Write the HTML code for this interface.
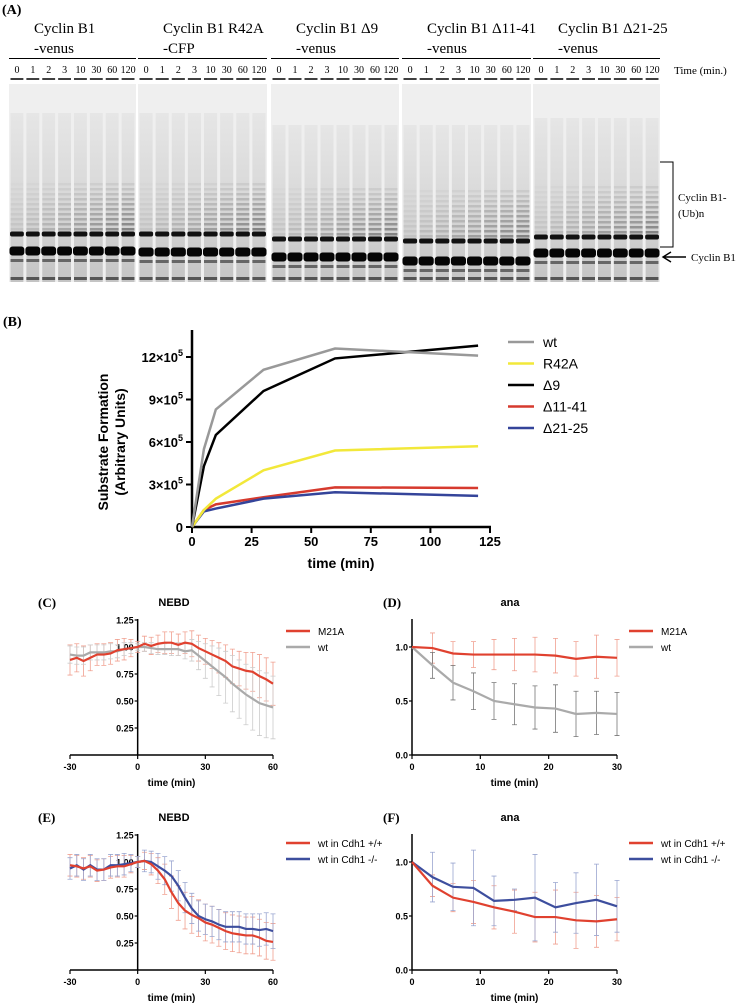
<!DOCTYPE html>
<html><head><meta charset="utf-8">
<style>
html,body{margin:0;padding:0;background:#fff;}
body{width:747px;height:1006px;position:relative;overflow:hidden;}
svg{position:absolute;left:0;top:0;}
.serif{font-family:"Liberation Serif",serif;}
.sans{font-family:"Liberation Sans",sans-serif;}
</style></head>
<body>
<svg id="fig" width="747" height="1006" viewBox="0 0 747 1006">
<defs>
<linearGradient id="laneGrad" x1="0" y1="0" x2="0" y2="1">
<stop offset="0" stop-color="#e6e6e6"/><stop offset="0.5" stop-color="#d8d8d8"/><stop offset="1" stop-color="#c4c4c4"/>
</linearGradient>
</defs>
<g id="gel"></g>
<g id="pb"></g>
<g id="pc"></g>
<g id="pd"></g>
<g id="pe"></g>
<g id="pf"></g>
</svg>
<script>
// ---------- DATA ----------
const gelGroups = ["Cyclin B1|-venus","Cyclin B1 R42A|-CFP","Cyclin B1 Δ9|-venus","Cyclin B1 Δ11-41|-venus","Cyclin B1 Δ21-25|-venus"];
const gelTimes = ["0","1","2","3","10","30","60","120"];

const bTimes = [0,5,10,30,60,120];
const bWt = [0,5.5,8.3,11.1,12.6,12.1];
const bR42A = [0,1.2,2.0,4.0,5.4,5.7];
const bD9 = [0,4.3,6.5,9.6,11.9,12.8];
const bD1141 = [0,1.2,1.6,2.1,2.8,2.75];
const bD2125 = [0,1.1,1.3,2.0,2.45,2.2];
const bXTicks = [0,25,50,75,100,125];
const bYTicks = [0,3,6,9,12];

const nebdTimes = [-30,-27,-24,-21,-18,-15,-12,-9,-6,-3,0,3,6,9,12,15,18,21,24,27,30,33,36,39,42,45,48,51,54,57,60];
const cM21A = [0.88,0.90,0.87,0.90,0.93,0.93,0.94,0.97,0.98,0.99,1.0,1.03,1.01,1.03,1.04,1.04,1.02,1.04,1.03,0.99,0.96,0.93,0.90,0.87,0.82,0.80,0.78,0.77,0.73,0.70,0.66];
const cM21AErr = [0.14,0.13,0.14,0.12,0.1,0.1,0.1,0.1,0.1,0.08,0.05,0.07,0.08,0.08,0.1,0.1,0.1,0.1,0.12,0.12,0.12,0.13,0.14,0.15,0.16,0.16,0.17,0.18,0.2,0.2,0.2];
const cWt = [0.93,0.92,0.92,0.95,0.95,0.95,0.96,0.96,0.98,0.99,1.0,1.0,0.99,0.98,0.98,0.98,0.98,0.96,0.97,0.92,0.87,0.82,0.77,0.72,0.66,0.61,0.56,0.52,0.48,0.46,0.44];
const cWtErr = [0.08,0.08,0.08,0.07,0.07,0.07,0.07,0.06,0.06,0.05,0.03,0.04,0.05,0.05,0.05,0.06,0.06,0.07,0.1,0.13,0.16,0.19,0.22,0.24,0.26,0.27,0.28,0.29,0.3,0.3,0.29];

const anaTimes = [0,3,6,9,12,15,18,21,24,27,30];
const dM21A = [1.0,0.99,0.94,0.93,0.93,0.93,0.93,0.92,0.89,0.91,0.90];
const dM21AErr = [0,0.14,0.11,0.12,0.14,0.15,0.16,0.16,0.16,0.2,0.17];
const dWt = [1.0,0.83,0.67,0.59,0.50,0.47,0.44,0.43,0.38,0.39,0.38];
const dWtErr = [0,0.12,0.16,0.17,0.17,0.19,0.2,0.22,0.21,0.2,0.2];

const eWtPos = [0.97,0.96,0.94,0.96,0.92,0.93,0.95,0.96,0.96,0.98,1.0,1.01,0.98,0.92,0.84,0.72,0.62,0.55,0.51,0.48,0.44,0.42,0.39,0.36,0.34,0.33,0.32,0.32,0.30,0.27,0.26];
const eWtPosErr = [0.1,0.1,0.1,0.1,0.1,0.1,0.1,0.1,0.1,0.08,0.05,0.08,0.1,0.12,0.14,0.15,0.16,0.17,0.17,0.17,0.17,0.17,0.17,0.17,0.17,0.17,0.17,0.17,0.17,0.17,0.17];
const eWtNeg = [0.94,0.97,0.93,0.97,0.93,0.93,0.97,0.97,0.98,0.99,1.0,1.01,1.0,0.96,0.92,0.87,0.78,0.67,0.57,0.50,0.47,0.45,0.42,0.40,0.40,0.40,0.38,0.38,0.37,0.38,0.36];
const eWtNegErr = [0.1,0.1,0.1,0.1,0.1,0.1,0.1,0.1,0.1,0.08,0.05,0.1,0.1,0.12,0.13,0.14,0.14,0.14,0.14,0.14,0.14,0.14,0.14,0.14,0.14,0.14,0.14,0.14,0.15,0.15,0.16];

const fWtPos = [1.0,0.78,0.67,0.63,0.58,0.54,0.49,0.49,0.46,0.45,0.47];
const fWtPosErr = [0,0.1,0.13,0.2,0.2,0.2,0.23,0.25,0.26,0.24,0.2];
const fWtNeg = [1.0,0.86,0.77,0.76,0.64,0.65,0.67,0.58,0.62,0.65,0.59];
const fWtNegErr = [0,0.23,0.22,0.35,0.23,0.1,0.4,0.23,0.28,0.33,0.24];

// ---------- HELPERS ----------
const NS = "http://www.w3.org/2000/svg";
function el(tag, attrs, parent, text){
  const e = document.createElementNS(NS, tag);
  for (const k in attrs) e.setAttribute(k, attrs[k]);
  if (text !== undefined) e.textContent = text;
  parent.appendChild(e);
  return e;
}
function mk(x0,x1,px0,px1){ return v => px0 + (v-x0)/(x1-x0)*(px1-px0); }

// ---------- GEL (A) ----------
(function(){
  const g = document.getElementById('gel');
  const lab = el('text',{x:2,y:14,class:'serif','font-size':14,'font-weight':'bold'},g,'(A)');
  
  
  const gx = [9,138,271,402,533];
  const gw = [127,129,128,129,127];
  const topY = [113,113,125,125,118];
  const upper = [234,234,239,241,237];
  const main = [251,252,257,261,253];
  gelGroups.forEach((name,i)=>{
    const parts = name.split('|');
    const t1 = el('text',{x:gx[i]+25,y:33,class:'serif','font-size':15},g,parts[0]);
    
    
    const t2 = el('text',{x:gx[i]+25,y:53,class:'serif','font-size':15},g,parts[1]);
    
    
    const ul = el('line',{x1:gx[i],x2:gx[i]+gw[i],y1:58.5,y2:58.5,stroke:'#000','stroke-width':1},g);
    
    
    const bg = el('rect',{x:gx[i],y:84,width:gw[i],height:198,fill:'#efefef'},g);
    
    
    const lw = gw[i]/8;
    gelTimes.forEach((t,j)=>{
      const cx = gx[i]+lw*j+lw/2;
      const tt = el('text',{x:cx,y:73,class:'serif','font-size':10,'text-anchor':'middle'},g,t);
      
      
      const d = el('line',{x1:cx-lw/2+1.5,x2:cx+lw/2-1.5,y1:79,y2:79,stroke:'#000','stroke-width':1.5},g);
      
      
      const lane = el('rect',{x:cx-lw/2+1.5,y:topY[i],width:lw-3,height:282-topY[i],fill:'url(#laneGrad)'},g);
      
      
      const k = j/7;
      for(let b=0;b<10;b++){
        const by = upper[i]-6-b*5;
        const op = (0.08+0.4*k)*(1-b/11);
        const s = el('rect',{x:cx-lw/2+1.5,y:by,width:lw-3,height:2.5,fill:'#333','fill-opacity':op},g);
        
        
      }
      const u = el('rect',{x:cx-lw/2+1,y:upper[i]-2.5,width:lw-2,height:5,rx:2,fill:'#111'},g);
      
      
      const m = el('rect',{x:cx-lw/2+0.5,y:main[i]-4.5,width:lw-1,height:9,rx:3,fill:'#050505'},g);
      
      
      const mid = el('rect',{x:cx-lw/2+1.5,y:main[i]+8,width:lw-3,height:3,fill:'#666'},g);
      
      
      const bot = el('rect',{x:cx-lw/2+1.5,y:277,width:lw-3,height:3,fill:'#555'},g);
      
      
    });
  });
  const tm = el('text',{x:674,y:74,class:'serif','font-size':11},g,'Time (min.)');
  
  
  const br = el('path',{d:'M660 162 H673 V247 H660',fill:'none',stroke:'#000','stroke-width':1},g);
  
  
  const u1 = el('text',{x:678,y:201,class:'serif','font-size':11},g,'Cyclin B1-');
  
  
  const u2 = el('text',{x:678,y:217,class:'serif','font-size':11},g,'(Ub)n');
  
  
  const ar = el('path',{d:'M686 257 H664 M671 252 L663 257 L671 262',fill:'none',stroke:'#000','stroke-width':1.4},g);
  
  
  const cl = el('text',{x:691,y:261,class:'serif','font-size':11},g,'Cyclin B1');
  
  
})();

// ---------- PANEL B ----------
(function(){
  const g = document.getElementById('pb');
  const X = mk(0,125,192,490), Y = mk(0,12,527,357);
  const lab = el('text',{x:3,y:326,class:'serif','font-size':14,'font-weight':'bold'},g,'(B)');
  
  
  const ya = el('line',{x1:192,x2:192,y1:330,y2:528,stroke:'#000','stroke-width':2.5},g);
  
  
  const xa = el('line',{x1:191,x2:491,y1:527,y2:527,stroke:'#000','stroke-width':2.5},g);
  
  
  bYTicks.forEach(v=>{
    const t = el('line',{x1:186,x2:192,y1:Y(v),y2:Y(v),stroke:'#000','stroke-width':2},g);
    
    
    const tx = el('text',{x:183,y:Y(v)+5,class:'sans','font-size':13,'font-weight':'bold','text-anchor':'end'},g);
    
    
    if(v===0){ tx.textContent='0'; }
    else { tx.textContent=v+'×10'; el('tspan',{dy:-6,'font-size':9},tx,'5'); }
  });
  bXTicks.forEach(v=>{
    const t = el('line',{x1:X(v),x2:X(v),y1:527,y2:533,stroke:'#000','stroke-width':2},g);
    
    
    const tx = el('text',{x:X(v),y:546,class:'sans','font-size':13,'font-weight':'bold','text-anchor':'middle'},g,String(v));
    
    
  });
  const xt = el('text',{x:341,y:568,class:'sans','font-size':14,'font-weight':'bold','text-anchor':'middle'},g,'time (min)');
  
  
  const yt = el('text',{transform:'translate(108,442) rotate(-90)',class:'sans','font-size':14,'font-weight':'bold','text-anchor':'middle'},g);
  
  
  el('tspan',{x:0,y:0},yt,'Substrate Formation');
  el('tspan',{x:0,y:17},yt,'(Arbitrary Units)');
  const series = [[bWt,'#999999','wt'],[bR42A,'#f2e83a','R42A'],[bD9,'#000000','Δ9'],[bD1141,'#d63a2e','Δ11-41'],[bD2125,'#34449a','Δ21-25']];
  const draw = [series[3],series[4],series[1],series[2],series[0]];
  draw.forEach(s=>{
    const p = el('polyline',{points:bTimes.map((t,i)=>X(t)+','+Y(s[0][i])).join(' '),fill:'none',stroke:s[1],'stroke-width':2.5},g);
    
    
  });
  series.forEach((s,i)=>{
    const y = 342+i*21.5;
    const l = el('line',{x1:508,x2:534,y1:y,y2:y,stroke:s[1],'stroke-width':2.5},g);
    
    
    const t = el('text',{x:543,y:y+5,class:'sans','font-size':14},g,s[2]);
    
    
  });
})();

// ---------- SMALL CHARTS ----------
function small(id, opt){
  const g = document.getElementById(id);
  const X = mk(opt.xmin,opt.xmax,opt.px0,opt.px1), Y = mk(0,1.25,opt.py0,opt.py0-135);
  const lab = el('text',{x:opt.labelX,y:opt.py0-148,class:'serif','font-size':13,'font-weight':'bold'},g,opt.label);
  
  
  const tt = el('text',{x:opt.titleX,y:opt.py0-149,class:'sans','font-size':11,'font-weight':'bold','text-anchor':'middle'},g,opt.title);
  
  
  const ax0 = X(opt.yAxisAt);
  const ya = el('line',{x1:ax0,x2:ax0,y1:opt.py0-136,y2:opt.py0,stroke:'#000','stroke-width':1.5},g);
  
  
  const xa = el('line',{x1:opt.px0,x2:opt.px1,y1:opt.py0,y2:opt.py0,stroke:'#000','stroke-width':1.5},g);
  
  
  opt.yTicks.forEach((v,i)=>{
    const t = el('line',{x1:ax0-3,x2:ax0,y1:Y(v),y2:Y(v),stroke:'#000','stroke-width':1.2},g);
    
    
    const tx = el('text',{x:ax0-4,y:Y(v)+3.5,class:'sans','font-size':9,'font-weight':'bold','text-anchor':'end'},g,opt.yLabels[i]);
    
    
  });
  opt.xTicks.forEach(v=>{
    const t = el('line',{x1:X(v),x2:X(v),y1:opt.py0,y2:opt.py0+4,stroke:'#000','stroke-width':1.2},g);
    
    
    const tx = el('text',{x:X(v),y:opt.py0+15,class:'sans','font-size':9,'font-weight':'bold','text-anchor':'middle'},g,String(v));
    
    
  });
  const xt = el('text',{x:(opt.px0+opt.px1)/2,y:opt.py0+31,class:'sans','font-size':10,'font-weight':'bold','text-anchor':'middle'},g,'time (min)');
  
  
  opt.series.forEach(s=>{
    s.vals.forEach((v,i)=>{
      const e = s.err[i]; if(!e) return;
      const x = X(opt.times[i]);
      const b = el('path',{d:`M${x} ${Y(v-e)} V${Y(v+e)} M${x-2.5} ${Y(v-e)} H${x+2.5} M${x-2.5} ${Y(v+e)} H${x+2.5}`,stroke:s.errColor,'stroke-width':0.8,fill:'none'},g);
      
      
    });
  });
  opt.series.slice().reverse().forEach(s=>{
    const p = el('polyline',{points:opt.times.map((t,i)=>X(t)+','+Y(s.vals[i])).join(' '),fill:'none',stroke:s.color,'stroke-width':2.2},g);
    
    
  });
  opt.series.forEach((s,i)=>{
    const y = opt.legY + i*16;
    const l = el('line',{x1:opt.legX,x2:opt.legX+24,y1:y,y2:y,stroke:s.color,'stroke-width':2.5},g);
    
    
    const t = el('text',{x:opt.legX+32,y:y+4,class:'sans','font-size':10},g,s.name);
    
    
  });
}
const RED='#e0412f', GRAY='#aaaaaa', BLUE='#3d4e9e';
const nebdY=[0.25,0.5,0.75,1.0,1.25], nebdYL=['0.25','0.50','0.75','1.00','1.25'];
const anaY=[0,0.5,1.0], anaYL=['0.0','0.5','1.0'];
small('pc',{label:'(C)',labelX:38,title:'NEBD',titleX:174,xmin:-30,xmax:60,px0:70,px1:273,py0:755,yAxisAt:0,
  yTicks:nebdY,yLabels:nebdYL,xTicks:[-30,0,30,60],times:nebdTimes,legX:286,legY:631,
  series:[{name:'M21A',vals:cM21A,err:cM21AErr,color:RED,errColor:'#f0a090'},{name:'wt',vals:cWt,err:cWtErr,color:GRAY,errColor:'#cccccc'}]});
small('pd',{label:'(D)',labelX:383,title:'ana',titleX:510,xmin:0,xmax:30,px0:412,px1:617,py0:755,yAxisAt:0,
  yTicks:anaY,yLabels:anaYL,xTicks:[0,10,20,30],times:anaTimes,legX:629,legY:631,
  series:[{name:'M21A',vals:dM21A,err:dM21AErr,color:RED,errColor:'#f0a090'},{name:'wt',vals:dWt,err:dWtErr,color:GRAY,errColor:'#777777'}]});
small('pe',{label:'(E)',labelX:38,title:'NEBD',titleX:174,xmin:-30,xmax:60,px0:70,px1:273,py0:970,yAxisAt:0,
  yTicks:nebdY,yLabels:nebdYL,xTicks:[-30,0,30,60],times:nebdTimes,legX:286,legY:843,
  series:[{name:'wt in Cdh1 +/+',vals:eWtPos,err:eWtPosErr,color:RED,errColor:'#f0a090'},{name:'wt in Cdh1 -/-',vals:eWtNeg,err:eWtNegErr,color:BLUE,errColor:'#9aa6d0'}]});
small('pf',{label:'(F)',labelX:383,title:'ana',titleX:510,xmin:0,xmax:30,px0:412,px1:617,py0:970,yAxisAt:0,
  yTicks:anaY,yLabels:anaYL,xTicks:[0,10,20,30],times:anaTimes,legX:629,legY:843,
  series:[{name:'wt in Cdh1 +/+',vals:fWtPos,err:fWtPosErr,color:RED,errColor:'#f0a090'},{name:'wt in Cdh1 -/-',vals:fWtNeg,err:fWtNegErr,color:BLUE,errColor:'#9aa6d0'}]});
</script>
</body></html>
